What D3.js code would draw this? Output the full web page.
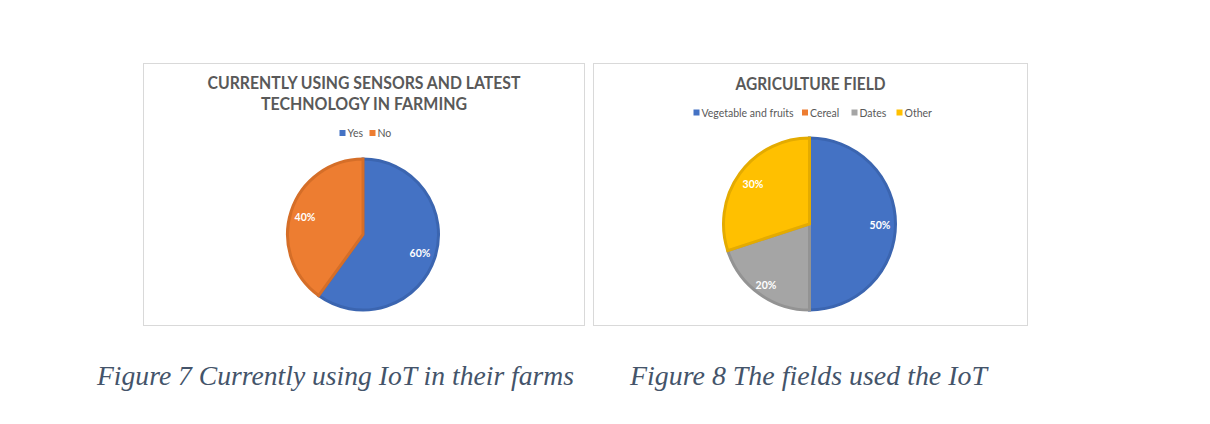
<!DOCTYPE html>
<html>
<head>
<meta charset="utf-8">
<script src="https://cdn.jsdelivr.net/npm/d3@7"></script>
<style>
  html, body { margin: 0; padding: 0; background: #ffffff; }
  svg { display: block; }
</style>
</head>
<body>
<svg id="chart" width="1210" height="424"></svg>
<script>
// ---------- data ----------
const chart1Title = ["CURRENTLY USING SENSORS AND LATEST", "TECHNOLOGY IN FARMING"];
const chart1Categories = ["Yes", "No"];
const chart1Values = [60, 40];
const chart1Colors = ["#4472c4", "#ed7d31"];
const chart1Strokes = ["#3b65b0", "#d56e28"];

const chart2Title = ["AGRICULTURE FIELD"];
const chart2Categories = ["Vegetable and fruits", "Cereal", "Dates", "Other"];
const chart2Values = [50, 0, 20, 30];
const chart2Colors = ["#4472c4", "#ed7d31", "#a5a5a5", "#ffc000"];
const chart2Strokes = ["#3b65b0", "#d56e28", "#939393", "#e4ab00"];

const captions = ["Figure 7 Currently using IoT in their farms", "Figure 8 The fields used the IoT"];

// ---------- layout ----------
const svg = d3.select("#chart");

const panels = [
  {
    box: {x: 143.5, y: 63.5, w: 441, h: 262},
    title: chart1Title, titleY: [83, 104], titleW: [313, 206],
    cats: chart1Categories, vals: chart1Values, colors: chart1Colors, strokes: chart1Strokes,
    legendY: 133, legendX: [339.5, 369.5],
    cx: 363, cy: 234.5, r: 77,
    labelPos: [[420, 253], [305, 217]]
  },
  {
    box: {x: 593.5, y: 63.5, w: 434, h: 262},
    title: chart2Title, titleY: [84], titleW: [150],
    cats: chart2Categories, vals: chart2Values, colors: chart2Colors, strokes: chart2Strokes,
    legendY: 112.5, legendX: [693.5, 802, 851.5, 896.5],
    cx: 809.5, cy: 224, r: 87.5,
    labelPos: [[880, 225], null, [766, 285], [753, 184]]
  }
];

panels.forEach(p => {
  const g = svg.append("g");
  g.append("rect")
    .attr("x", p.box.x).attr("y", p.box.y)
    .attr("width", p.box.w).attr("height", p.box.h)
    .attr("fill", "#ffffff").attr("stroke", "#d9d9d9").attr("stroke-width", 1);

  const mid = p.cx;
  p.title.forEach((t, i) => {
    g.append("text")
      .attr("x", p.box.x + p.box.w / 2).attr("y", p.titleY[i])
      .attr("text-anchor", "middle").attr("dominant-baseline", "central")
      .attr("font-family", "Lato, 'Open Sans', sans-serif")
      .attr("font-weight", "bold").attr("font-size", 16.5)
      .attr("fill", "#595959")
      .attr("textLength", p.titleW[i]).attr("lengthAdjust", "spacingAndGlyphs")
      .text(t);
  });

  // legend
  p.cats.forEach((c, i) => {
    const lx = p.legendX[i];
    g.append("rect")
      .attr("x", lx).attr("y", p.legendY - 3)
      .attr("width", 6).attr("height", 6)
      .attr("fill", p.colors[i]);
    g.append("text")
      .attr("x", lx + 8).attr("y", p.legendY)
      .attr("dominant-baseline", "central")
      .attr("font-family", "Lato, 'Open Sans', sans-serif")
      .attr("font-size", 10.5)
      .attr("fill", "#595959")
      .text(c);
  });

  // pie
  const pie = d3.pie().sort(null).value(d => d.v);
  const data = pie(p.vals.map((v, i) => ({v, i})));
  const sw = 3;
  const arc = d3.arc().innerRadius(0).outerRadius(p.r - sw / 2);
  const pg = g.append("g").attr("transform", `translate(${p.cx},${p.cy})`);
  pg.selectAll("path").data(data.filter(d => d.data.v > 0)).join("path")
    .attr("d", arc)
    .attr("fill", d => p.colors[d.data.i])
    .attr("stroke", d => p.strokes[d.data.i])
    .attr("stroke-width", sw)
    .attr("stroke-linejoin", "miter");

  // labels
  const total = d3.sum(p.vals);
  data.forEach(d => {
    const pos = p.labelPos[d.data.i];
    if (!pos || d.data.v === 0) return;
    g.append("text")
      .attr("x", pos[0]).attr("y", pos[1])
      .attr("text-anchor", "middle").attr("dominant-baseline", "central")
      .attr("font-family", "Lato, 'Open Sans', sans-serif")
      .attr("font-weight", "bold").attr("font-size", 10.5)
      .attr("fill", "#ffffff")
      .text(Math.round(d.data.v / total * 100) + "%");
  });
});

// captions
const capX = [97, 630];
const capW = [477, 357];
captions.forEach((c, i) => {
  svg.append("text")
    .attr("x", capX[i]).attr("y", 385)
    .attr("font-family", "'Liberation Serif', 'Times New Roman', serif")
    .attr("font-style", "italic")
    .attr("font-size", 28)
    .attr("fill", "#44546a")
    .attr("textLength", capW[i]).attr("lengthAdjust", "spacingAndGlyphs")
    .text(c);
});
</script>
</body>
</html>
